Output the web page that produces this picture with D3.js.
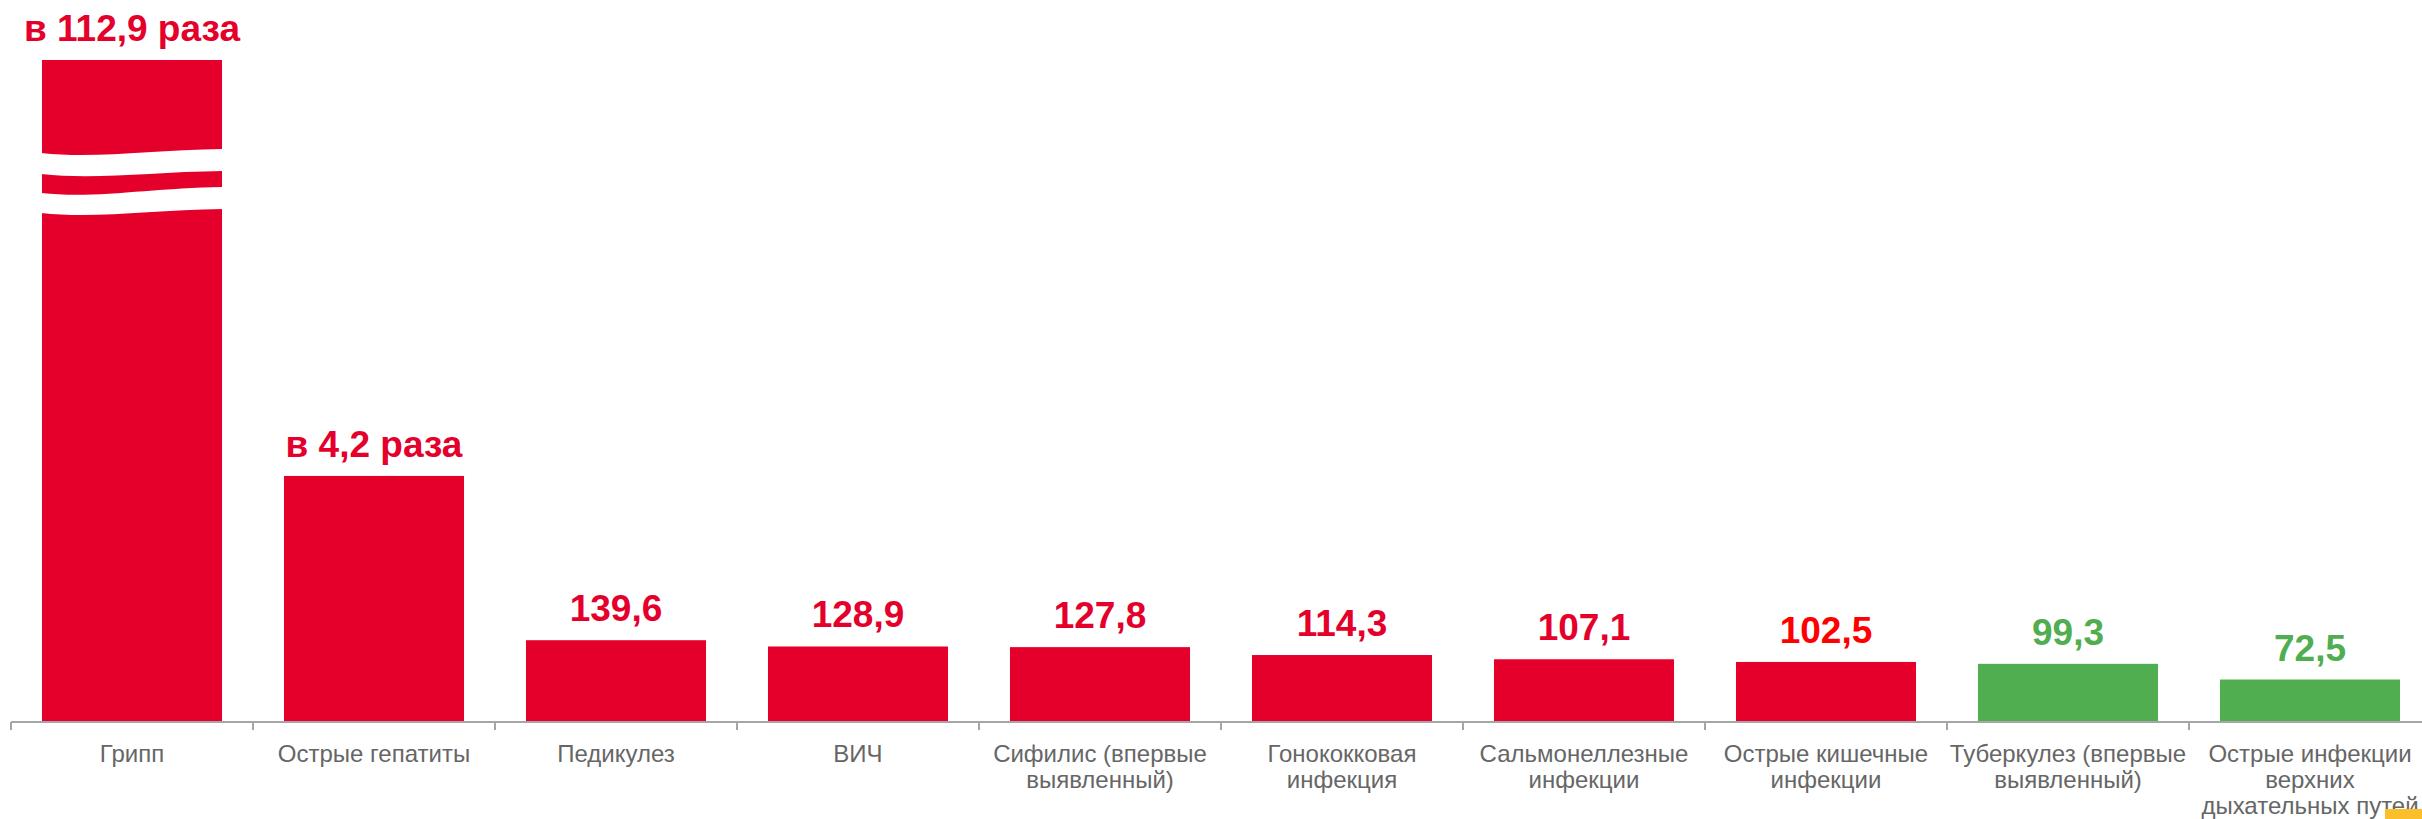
<!DOCTYPE html>
<html>
<head>
<meta charset="utf-8">
<script src="https://cdn.jsdelivr.net/npm/d3@7"></script>
<style>
  body { margin: 0; background: #fff; }
  svg { display: block; font-family: "Liberation Sans", Arial, sans-serif; }
</style>
</head>
<body>
<div id="chart"></div>
<script>
// categories (line breaks as in the original labels)
var categories = [
  ['Грипп'],
  ['Острые гепатиты'],
  ['Педикулез'],
  ['ВИЧ'],
  ['Сифилис (впервые', 'выявленный)'],
  ['Гонококковая', 'инфекция'],
  ['Сальмонеллезные', 'инфекции'],
  ['Острые кишечные', 'инфекции'],
  ['Туберкулез (впервые', 'выявленный)'],
  ['Острые инфекции', 'верхних', 'дыхательных путей']
];
// values in % (first two are "в N раза" -> N*100)
var values = [11290, 420, 139.6, 128.9, 127.8, 114.3, 107.1, 102.5, 99.3, 72.5];

var width = 2422, height = 819;
var base = 722, yTop = 60;

var ru = d3.formatLocale({decimal: ',', thousands: ' ', grouping: [3], currency: ['', '']});
var f1 = ru.format('.1f');
function labelText(v) {
  return v >= 200 ? 'в ' + f1(v / 100) + ' раза' : f1(v);
}

var svg = d3.select('#chart').
    append('svg').
    attr('width', width).
    attr('height', height);

var names = categories.map(function(c) { return c.join(' ') });

var x = d3.scaleBand().
    domain(names).
    range([11, 2431]).
    paddingInner(0.256).
    paddingOuter(0.128);

var y = d3.scaleLinear().
    domain([0, 1130]).
    range([base, yTop]).
    clamp(true);

var red = '#e4002b', green = '#50ad50';
function barColor(v) { return v >= 100 ? red : green }
function textColor(v, i) {
  if (names[i] == 'Острые кишечные инфекции') return '#ff0000';
  return barColor(v);
}

// bars
svg.selectAll('rect.bar').
    data(values).
    enter().
    append('rect').
    attr('class', 'bar').
    attr('x', function(d, i) { return x(names[i]) }).
    attr('y', function(d) { return y(d) }).
    attr('width', x.bandwidth()).
    attr('height', function(d) { return base - y(d) }).
    attr('fill', barColor);

// break marks on the first (clipped) bar
var x0 = x(names[0]) - 1, w = x.bandwidth() + 2, x1 = x0 + w;
function wave(yl, yr) {
  return 'C' + (x0 + 0.3 * w) + ',' + (yl + 6) + ' ' + (x0 + 0.6 * w) + ',' + (yr + 1) + ' ' + x1 + ',' + yr;
}
function waveBack(yl, yr) {
  return 'C' + (x0 + 0.6 * w) + ',' + (yr + 1) + ' ' + (x0 + 0.3 * w) + ',' + (yl + 6) + ' ' + x0 + ',' + yl;
}
[[153, 149, 174, 171], [193, 187, 213, 209]].forEach(function(b) {
  svg.append('path').
      attr('d', 'M' + x0 + ',' + b[0] + wave(b[0], b[1]) +
           'L' + x1 + ',' + b[3] + waveBack(b[2], b[3]) + 'Z').
      attr('fill', '#fff');
});

// value labels
svg.selectAll('text.val').
    data(values).
    enter().
    append('text').
    attr('class', 'val').
    attr('x', function(d, i) { return x(names[i]) + x.bandwidth() / 2 }).
    attr('y', function(d) { return y(d) - 19 }).
    attr('text-anchor', 'middle').
    attr('font-size', 37).
    attr('font-weight', 'bold').
    attr('fill', textColor).
    text(labelText);

// axis
var axis = svg.append('g').attr('transform', 'translate(0,' + base + ')');
axis.append('line').
    attr('x1', 11).attr('x2', 2431).
    attr('stroke', '#a6a6a6').attr('stroke-width', 2);
axis.selectAll('line.tick').
    data(names).
    enter().
    append('line').
    attr('class', 'tick').
    attr('x1', function(d) { return x(d) - x.step() * x.paddingInner() / 2 }).
    attr('x2', function(d) { return x(d) - x.step() * x.paddingInner() / 2 }).
    attr('y1', 0).attr('y2', 8).
    attr('stroke', '#a6a6a6').attr('stroke-width', 2);

var lab = axis.selectAll('text.cat').
    data(categories).
    enter().
    append('text').
    attr('class', 'cat').
    attr('text-anchor', 'middle').
    attr('font-size', 24).
    attr('fill', '#666666');
lab.selectAll('tspan').
    data(function(d, i) { return d.map(function(s) { return {s: s, i: i} }) }).
    enter().
    append('tspan').
    attr('x', function(d) { return x(names[d.i]) + x.bandwidth() / 2 }).
    attr('y', function(d, j) { return 40 + j * 26 }).
    text(function(d) { return d.s });

// small corner mark
svg.append('rect').
    attr('x', 2385).attr('y', 809).
    attr('width', 37).attr('height', 10).
    attr('fill', '#fbbf2c');
</script>
</body>
</html>
